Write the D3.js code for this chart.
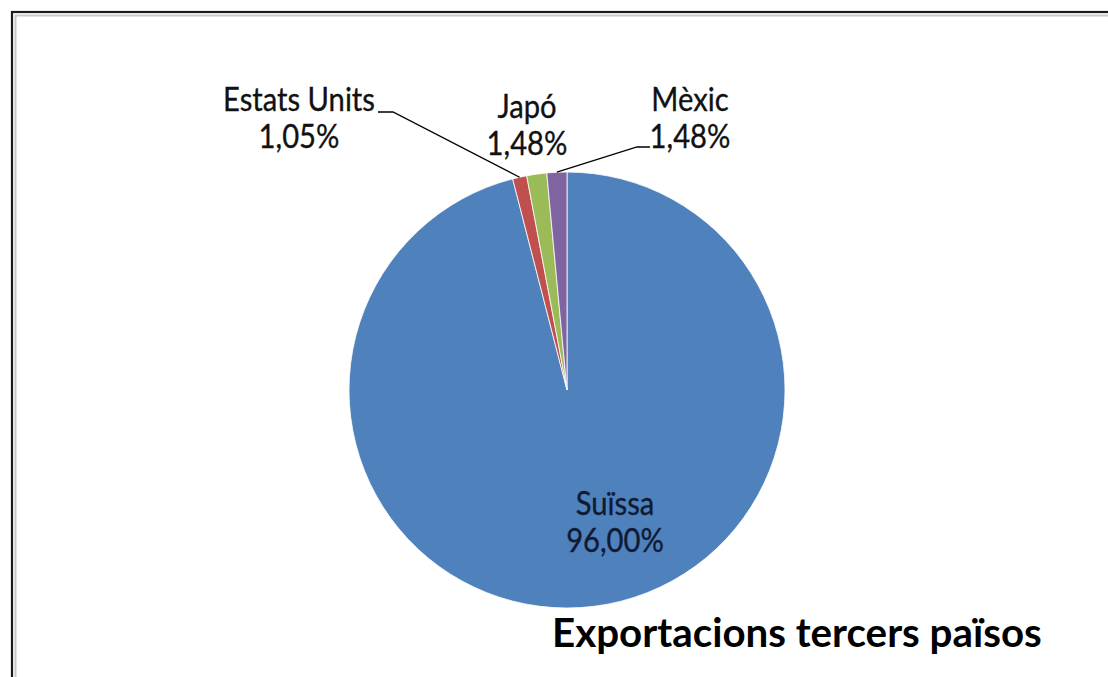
<!DOCTYPE html>
<html>
<head>
<meta charset="utf-8">
<script src="https://cdn.jsdelivr.net/npm/d3@7"></script>
<style>
html,body{margin:0;padding:0;background:#fff;}
svg{display:block;}
</style>
</head>
<body>
<svg id="chart" width="1108" height="677"></svg>
<script>
const categories = ["Suïssa", "Estats Units", "Japó", "Mèxic"];
const values = [96.00, 1.05, 1.48, 1.48];
const percentLabels = ["96,00%", "1,05%", "1,48%", "1,48%"];
const colors = ["#4F81BD", "#C0504D", "#9BBB59", "#8064A2"];
const title = "Exportacions tercers països";

const W = 1108, H = 677;
const svg = d3.select("#chart");
const font = "Lato, 'Open Sans', sans-serif";

// frame
svg.append("rect").attr("x", 12).attr("y", 12).attr("width", W + 20).attr("height", H + 20)
  .attr("fill", "none").attr("stroke", "#1a1a1a").attr("stroke-width", 2.2);
svg.append("rect").attr("x", 15.5).attr("y", 15.5).attr("width", W + 20).attr("height", H + 20)
  .attr("fill", "none").attr("stroke", "#c8c8c8").attr("stroke-width", 2);

const cx = 567, cy = 390, R = 218;
const pie = d3.pie().sort(null).value(d => d);
const arcs = pie(values);
const arc = d3.arc().innerRadius(0).outerRadius(R);

const g = svg.append("g").attr("transform", `translate(${cx},${cy})`);
g.selectAll("path").data(arcs).enter().append("path")
  .attr("d", arc)
  .attr("fill", (d, i) => colors[i])
  .attr("stroke", "#ffffff").attr("stroke-width", 0.8);

// label layout (label text centres and baselines)
const labelLayout = [
  {x: 615, y1: 515, y2: 552, leader: null, color: "#0f1a33"},
  {x: 299, y1: 111, y2: 148, leader: [378, 393, 112], color: "#111"},
  {x: 527, y1: 118, y2: 155, leader: null, color: "#111"},
  {x: 690, y1: 111, y2: 148, leader: [650, 637, 147], color: "#111"}
];

function fitSize(text, target, weight) {
  const t = svg.append("text").attr("font-family", font).attr("font-weight", weight)
    .attr("font-size", 100).text(text);
  const w = t.node().getComputedTextLength();
  t.remove();
  return 100 * target / w;
}
const squeeze = 0.88;
const labelSize = fitSize("Estats Units", 152, "normal") / squeeze;

arcs.forEach((a, i) => {
  const L = labelLayout[i];
  if (L.leader) {
    const mid = (a.startAngle + a.endAngle) / 2;
    const ex = cx + R * Math.sin(mid), ey = cy - R * Math.cos(mid);
    svg.append("polyline")
      .attr("points", `${L.leader[0]},${L.leader[2]} ${L.leader[1]},${L.leader[2]} ${ex},${ey}`)
      .attr("fill", "none").attr("stroke", "#000").attr("stroke-width", 1.3);
  }
  const lg = svg.append("g").attr("transform", `translate(${L.x},0) scale(${squeeze},1)`);
  [[categories[i], L.y1], [percentLabels[i], L.y2]].forEach(([txt, y]) => {
    lg.append("text").attr("font-family", font).attr("font-size", labelSize)
      .attr("fill", L.color).attr("text-anchor", "middle")
      .attr("stroke", L.color).attr("stroke-width", 0.35)
      .attr("x", 0).attr("y", y).text(txt);
  });
});

const titleSize = fitSize(title, 490, "bold");
svg.append("text").attr("x", 552).attr("y", 647)
  .attr("font-family", font).attr("font-weight", "bold").attr("font-size", titleSize)
  .attr("fill", "#000").text(title);
</script>
</body>
</html>
